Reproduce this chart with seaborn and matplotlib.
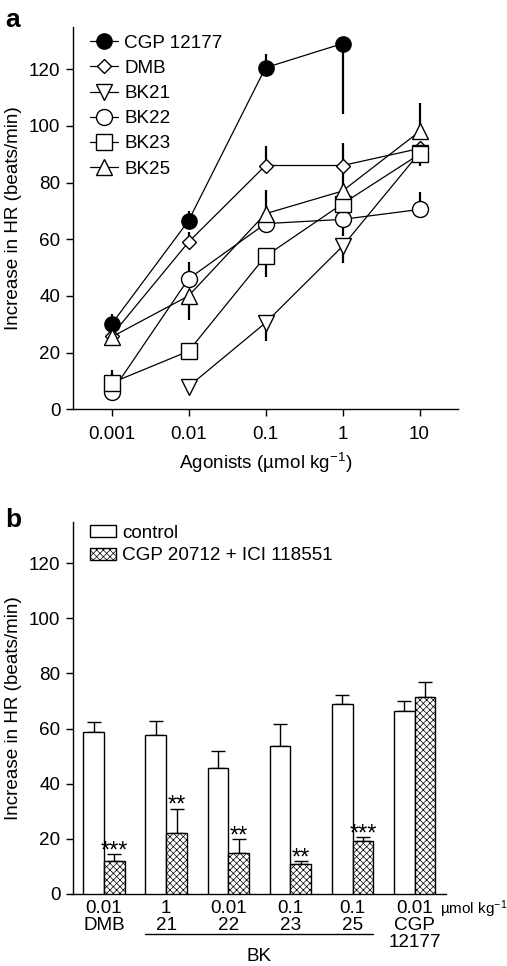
import numpy as np
import pandas as pd
import matplotlib
matplotlib.use("Agg")
import matplotlib.pyplot as plt
import matplotlib.transforms as mtransforms
import seaborn as sns

# ---------------- data: panel a ----------------
doses = [0.001, 0.01, 0.1, 1, 10]
dose_labels = ["0.001", "0.01", "0.1", "1", "10"]
compounds = ["CGP 12177", "DMB", "BK21", "BK22", "BK23", "BK25"]
cgp12177 = [30, 66.5, 120.5, 129, np.nan]
dmb = [26, 59, 86, 86, 92]
bk21 = [np.nan, 8, 30.5, 57.5, 90.5]
bk22 = [6, 46, 65.5, 67, 70.5]
bk23 = [9.3, 20.5, 54, 72.5, 90]
bk25 = [25.5, 40, 69, 77, 98]
# signed SEM: positive = drawn upward, negative = drawn downward
cgp12177_err = [3.5, 3.5, 5, -25, np.nan]
dmb_err = [0, 3.5, 7, 8, 0]
bk21_err = [np.nan, 0, -6.5, -6, 0]
bk22_err = [0, 6, 0, -6, 6]
bk23_err = [4.5, 0, -7.5, 0, -4]
bk25_err = [0, -8.5, 8.5, 6.5, 10]

# ---------------- data: panel b ----------------
groups = ["DMB", "BK21", "BK22", "BK23", "BK25", "CGP 12177"]
group_ticklabels = ["0.01\nDMB", "1\n21", "0.01\n22", "0.1\n23", "0.1\n25", "0.01\nCGP\n12177"]
conditions = ["control", "CGP 20712 + ICI 118551"]
control = [58.8, 57.5, 45.8, 53.8, 69.0, 66.3]
control_sem = [3.6, 5.4, 5.9, 7.7, 3.3, 3.6]
blocked = [11.9, 22.3, 14.7, 11.0, 19.3, 71.3]
blocked_sem = [2.6, 8.7, 5.2, 0.8, 1.4, 5.7]
stars = ["***", "**", "**", "**", "***", ""]
bk_groups = ["BK21", "BK22", "BK23", "BK25"]

# ---------------- style ----------------
sns.set_style("ticks")
plt.rcParams["font.family"] = ["Liberation Sans", "DejaVu Sans"]
plt.rcParams.update({
    "mathtext.fontset": "custom",
    "mathtext.rm": "Liberation Sans",
    "mathtext.it": "Liberation Sans",
    "mathtext.default": "regular",
    "hatch.linewidth": 0.5,
    "axes.linewidth": 1.0,
    "axes.edgecolor": "black",
    "xtick.color": "black",
    "ytick.color": "black",
    "xtick.major.width": 1.0,
    "ytick.major.width": 1.0,
    "text.color": "black",
    "axes.labelcolor": "black",
})
FS = 13.6

fig = plt.figure(figsize=(5.07, 9.66), dpi=100)
W, H = 507, 966
ax1 = fig.add_axes([73 / W, 1 - 409.3 / H, (458 - 73) / W, (409.3 - 26.6) / H])
ax2 = fig.add_axes([73 / W, 1 - 894 / H, (445.7 - 73) / W, (894 - 521.7) / H])

# ---------------- panel a ----------------
series = [cgp12177, dmb, bk21, bk22, bk23, bk25]
errors = [cgp12177_err, dmb_err, bk21_err, bk22_err, bk23_err, bk25_err]
markers = {"CGP 12177": "o", "DMB": "D", "BK21": "v", "BK22": "o", "BK23": "s", "BK25": "^"}
msizes = {"CGP 12177": 11, "DMB": 7.5, "BK21": 11.5, "BK22": 11.5, "BK23": 11.5, "BK25": 11.5}
fills = {"CGP 12177": "black"}

ax1.set_xscale("log")
for name, vals, errs in zip(compounds, series, errors):
    d = pd.DataFrame({"dose": doses, "hr": vals, "err": errs}).dropna()
    up = d["err"].clip(lower=0).to_numpy()
    down = (-d["err"]).clip(lower=0).to_numpy()
    ax1.errorbar(d["dose"], d["hr"], yerr=[down, up], fmt="none", ecolor="black",
                 elinewidth=1.6, capsize=0, zorder=2)
    sns.lineplot(data=d, x="dose", y="hr", ax=ax1, color="black", linewidth=0.9,
                 marker=markers[name], markersize=msizes[name],
                 markerfacecolor=fills.get(name, "white"), markeredgecolor="black",
                 markeredgewidth=1.0, estimator=None, errorbar=None, label=name,
                 zorder=3)

ax1.set_xlim(10 ** -3.5, 10 ** 1.5)
ax1.set_ylim(0, 135)
ax1.set_xticks(doses)
ax1.set_xticklabels(dose_labels)
ax1.xaxis.set_minor_locator(matplotlib.ticker.NullLocator())
ax1.set_yticks([0, 20, 40, 60, 80, 100, 120])
ax1.tick_params(axis="both", labelsize=FS, length=5)
ax1.tick_params(axis="x", pad=7)
ax1.tick_params(axis="y", pad=4)
ax1.set_xlabel("Agonists (µmol kg$^{-1}$)", fontsize=FS, labelpad=6)
ax1.set_ylabel("Increase in HR (beats/min)", fontsize=FS, labelpad=5)
sns.despine(ax=ax1)
ax1.legend(loc="upper left", bbox_to_anchor=(17 / 385, 1 - 8 / 382.7),
           frameon=False, fontsize=FS, handlelength=1.5, handletextpad=0.3,
           labelspacing=0.42, borderaxespad=0, borderpad=0)

# ---------------- panel b ----------------
dfb = pd.DataFrame({
    "group": groups * 2,
    "cond": [conditions[0]] * len(groups) + [conditions[1]] * len(groups),
    "hr": control + blocked,
    "sem": control_sem + blocked_sem,
})
sns.barplot(data=dfb, x="group", y="hr", hue="cond", order=groups, hue_order=conditions,
            palette=["white", "white"], saturation=1, edgecolor="black", linewidth=1.0,
            width=2 / 3, gap=0, errorbar=None, legend=False, ax=ax2, zorder=3)
for p in ax2.containers[1]:
    p.set_hatch("xxxxx")

for cont, sems in zip(ax2.containers, [control_sem, blocked_sem]):
    xs = [p.get_x() + p.get_width() / 2 for p in cont]
    ys = [p.get_height() for p in cont]
    ax2.errorbar(xs, ys, yerr=[np.zeros(len(sems)), sems], fmt="none", ecolor="black",
                 elinewidth=1.0, capsize=5, capthick=1.0, zorder=2)

for p, s, e in zip(ax2.containers[1], stars, blocked_sem):
    if s:
        ax2.text(p.get_x() + p.get_width() / 2, p.get_height() + e - 1.2, s,
                 ha="center", va="baseline", fontsize=17)

ax2.set_xlim(-0.5, len(groups) - 0.5)
ax2.set_ylim(0, 135)
ax2.set_yticks([0, 20, 40, 60, 80, 100, 120])
ax2.set_xticks(range(len(groups)))
ax2.set_xticklabels(group_ticklabels)
for t in ax2.get_xticklabels():
    t.set_linespacing(1.0)
ax2.tick_params(axis="x", length=0, labelsize=FS, pad=4)
ax2.tick_params(axis="y", length=5, labelsize=FS, pad=4)
ax2.set_xlabel("")
ax2.set_ylabel("Increase in HR (beats/min)", fontsize=FS, labelpad=5)
sns.despine(ax=ax2)

ax2.legend(handles=[ax2.containers[0][0], ax2.containers[1][0]], labels=conditions,
           loc="upper left", bbox_to_anchor=(17 / 372.7, 1 - 3 / 372.3), frameon=False,
           fontsize=FS, handlelength=1.35, handleheight=0.6, handletextpad=0.35,
           labelspacing=0.3, borderaxespad=0, borderpad=0)

# unit label and BK bracket
ax2.annotate("µmol kg$^{-1}$", xy=(1, 0), xycoords="axes fraction",
             xytext=(-4, -11), textcoords="offset points", ha="left", va="center",
             fontsize=11)
trans = mtransforms.blended_transform_factory(ax2.transData, ax2.transAxes)
first = groups.index(bk_groups[0])
last = groups.index(bk_groups[-1])
ax2.plot([first - 1 / 3, last + 1 / 3], [-0.1075, -0.1075], color="black", lw=1.0,
         transform=trans, clip_on=False)
ax2.text((first + last) / 2, -0.168, "BK", transform=trans, ha="center", va="center",
         fontsize=FS)

# panel letters
fig.text(5 / W, 1 - 27 / H, "a", fontsize=19, fontweight="bold", ha="left", va="baseline")
fig.text(5 / W, 1 - 527 / H, "b", fontsize=19, fontweight="bold", ha="left", va="baseline")

fig.savefig("out.png", dpi=100)
